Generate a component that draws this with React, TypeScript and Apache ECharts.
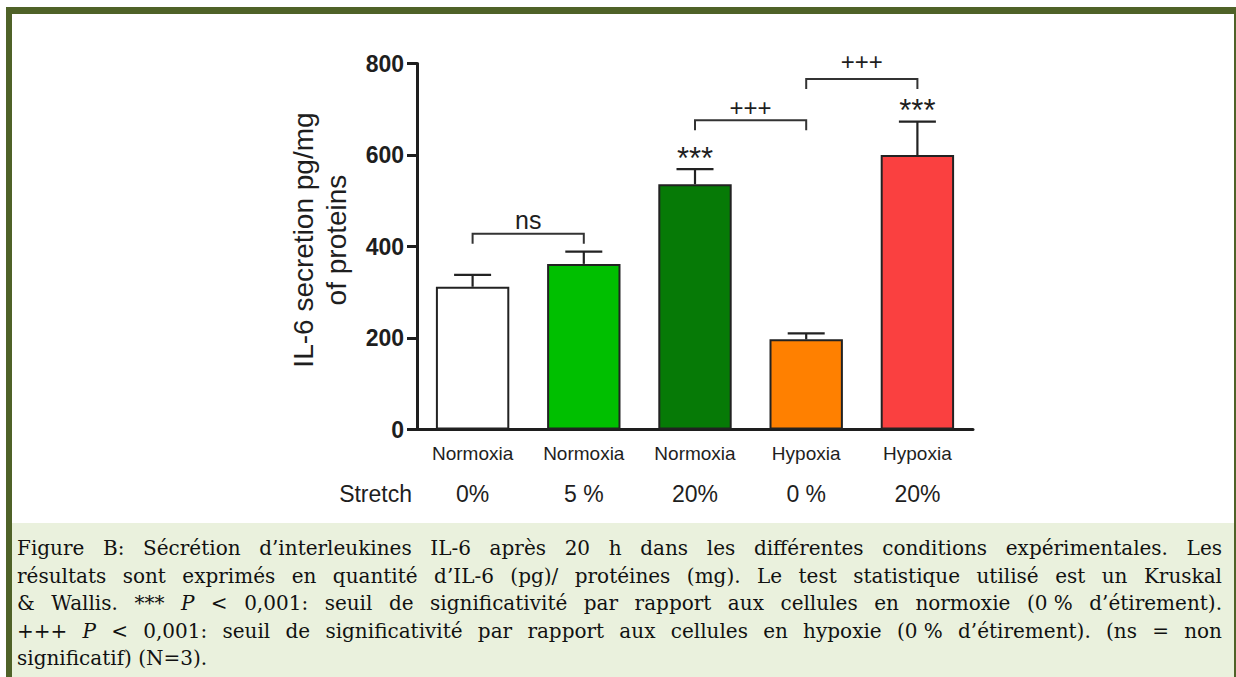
import React, { useEffect, useRef } from "react";
import * as echarts from "echarts";

const categories = ["Normoxia", "Normoxia", "Normoxia", "Hypoxia", "Hypoxia"];
const stretchLabels = ["0%", "5 %", "20%", "0 %", "20%"];
const meanValues = [312, 362, 536, 197, 600];
const semValues = [26, 27, 33, 13, 73];
const starLabels = ["", "", "***", "", "***"];
const barColors = ["#ffffff", "#00bf00", "#067a06", "#ff8000", "#fa4040"];
const yMin = 0;
const yMax = 800;
const yInterval = 200;

const bracketFrom = [0, 2, 3];
const bracketTo = [1, 3, 4];
const bracketLevel = [428, 676, 766];
const bracketLabelLevel = [454, 704, 805];
const bracketLabels = ["ns", "+++", "+++"];

const captionLines = [
  "Figure B: Sécrétion d’interleukines IL-6 après 20 h dans les différentes conditions expérimentales. Les",
  "résultats sont exprimés en quantité d’IL-6 (pg)/ protéines (mg). Le test statistique utilisé est un Kruskal",
  "& Wallis. *** P < 0,001: seuil de significativité par rapport aux cellules en normoxie (0\u00a0% d’étirement).",
  "+++ P < 0,001: seuil de significativité par rapport aux cellules en hypoxie (0\u00a0% d’étirement). (ns = non",
  "significatif) (N=3).",
];

const SANS = '"Liberation Sans", Arial, sans-serif';
const SERIF = '"DejaVu Serif", serif';
const INK = "#1e1e1e";

function buildCaption(): any[] {
  const ctx = document.createElement("canvas").getContext("2d")!;
  const left = 17;
  const right = 1222;
  const avail = right - left;
  const fs = 20;
  const measure = (t: string, it: boolean) => {
    ctx.font = `${it ? "italic " : ""}${fs}px ${SERIF}`;
    return ctx.measureText(t).width;
  };
  let maxW = 0;
  captionLines.forEach((line) => {
    const w = measure(line.replace(/\u00a0/g, " "), false);
    if (w > maxW) maxW = w;
  });
  const sx = Math.min(1, (avail * 0.99) / maxW);
  const els: any[] = [];
  const lineY = [548, 575.5, 603, 630.5, 658];
  captionLines.forEach((line, li) => {
    const words = line.split(" ");
    const widths = words.map((w) => measure(w, w === "P") * sx);
    const total = widths.reduce((a, b) => a + b, 0);
    const last = li === captionLines.length - 1;
    const gap = last ? measure(" ", false) * sx : (avail - total) / (words.length - 1);
    let x = left;
    words.forEach((w, wi) => {
      els.push({
        type: "text",
        x,
        y: lineY[li],
        scaleX: sx,
        silent: true,
        style: {
          text: w,
          fill: "#111",
          font: `${w === "P" ? "italic " : ""}${fs}px ${SERIF}`,
          align: "left",
          verticalAlign: "middle",
        },
      });
      x += widths[wi] + gap;
    });
  });
  return els;
}

export default function App() {
  const ref = useRef<HTMLDivElement>(null);
  useEffect(() => {
    document.body.style.margin = "0";
    const chart = echarts.init(ref.current!, null, { renderer: "svg" });
    const frameColor = "#4f6228";
    const option: any = {
      animation: false,
      backgroundColor: "#ffffff",
      grid: { left: 417, top: 63.5, width: 556, height: 366 },
      xAxis: [
        {
          type: "category",
          data: categories,
          position: "bottom",
          axisLine: { lineStyle: { color: INK, width: 3 } },
          axisTick: { alignWithLabel: true, length: 10, lineStyle: { color: INK, width: 3 } },
          axisLabel: { color: INK, fontFamily: SANS, fontSize: 19, margin: 14 },
        },
        {
          type: "category",
          data: stretchLabels,
          position: "bottom",
          offset: 0,
          axisLine: { show: false },
          axisTick: { show: false },
          axisLabel: { color: INK, fontFamily: SANS, fontSize: 23, margin: 53 },
        },
      ],
      yAxis: {
        type: "value",
        min: yMin,
        max: yMax,
        interval: yInterval,
        splitLine: { show: false },
        axisLine: { show: true, lineStyle: { color: INK, width: 3 } },
        axisTick: { show: true, length: 10, lineStyle: { color: INK, width: 3 } },
        axisLabel: { color: INK, fontFamily: SANS, fontSize: 23, fontWeight: "bold", margin: 13 },
      },
      series: [
        {
          type: "bar",
          barWidth: "66%",
          data: meanValues.map((v, i) => ({
            value: v,
            itemStyle: { color: barColors[i], borderColor: "#222", borderWidth: 2 },
          })),
          z: 2,
        },
        {
          type: "custom",
          z: 3,
          encode: { x: 0, y: [1, 2] },
          data: meanValues.map((v, i) => [i, v, v + semValues[i], i]),
          renderItem: (params: any, api: any) => {
            const idx = api.value(0);
            const base = api.coord([idx, api.value(1)]);
            const top = api.coord([idx, api.value(2)]);
            const half = 18.5;
            const children: any[] = [
              {
                type: "line",
                shape: { x1: base[0], y1: base[1], x2: top[0], y2: top[1] },
                style: { stroke: "#222", lineWidth: 2.2 },
              },
              {
                type: "line",
                shape: { x1: top[0] - half, y1: top[1], x2: top[0] + half, y2: top[1] },
                style: { stroke: "#222", lineWidth: 2.2 },
              },
            ];
            const star = starLabels[api.value(3)];
            if (star) {
              children.push({
                type: "text",
                x: top[0],
                y: top[1] - 11,
                style: {
                  text: star,
                  fill: INK,
                  font: `31px ${SANS}`,
                  align: "center",
                  verticalAlign: "middle",
                },
              });
            }
            return { type: "group", children };
          },
        },
        {
          type: "custom",
          z: 3,
          encode: { x: [0, 1], y: [2, 3] },
          data: bracketFrom.map((f, i) => [f, bracketTo[i], bracketLevel[i], bracketLabelLevel[i], i]),
          renderItem: (params: any, api: any) => {
            const a = api.coord([api.value(0), api.value(2)]);
            const b = api.coord([api.value(1), api.value(2)]);
            const lab = api.coord([api.value(0), api.value(3)]);
            const leg = 10;
            const label = bracketLabels[api.value(4)];
            const isNs = label === "ns";
            return {
              type: "group",
              children: [
                {
                  type: "polyline",
                  shape: {
                    points: [
                      [a[0], a[1] + leg],
                      [a[0], a[1]],
                      [b[0], b[1]],
                      [b[0], b[1] + leg],
                    ],
                  },
                  style: { stroke: "#333", lineWidth: 2, fill: null },
                },
                {
                  type: "text",
                  x: (a[0] + b[0]) / 2,
                  y: lab[1] - (isNs ? 2 : 0),
                  style: {
                    text: label,
                    fill: INK,
                    font: `${isNs ? 25 : 24}px ${SANS}`,
                    align: "center",
                    verticalAlign: "middle",
                  },
                },
              ],
            };
          },
        },
      ],
      graphic: [
        { type: "rect", silent: true, shape: { x: 12, y: 523, width: 1222, height: 154 }, style: { fill: "#eaf1dd" } },
        { type: "rect", silent: true, shape: { x: 6, y: 7, width: 1230, height: 7 }, style: { fill: frameColor } },
        { type: "rect", silent: true, shape: { x: 6, y: 7, width: 6, height: 670 }, style: { fill: frameColor } },
        { type: "rect", silent: true, shape: { x: 1234, y: 7, width: 6, height: 670 }, style: { fill: frameColor } },
        {
          type: "text",
          x: 320,
          y: 240,
          rotation: Math.PI / 2,
          silent: true,
          style: {
            text: "IL-6 secretion pg/mg\nof proteins",
            fill: INK,
            font: `28px ${SANS}`,
            align: "center",
            verticalAlign: "middle",
            lineHeight: 33,
          },
        },
        {
          type: "text",
          x: 412,
          y: 494,
          silent: true,
          style: { text: "Stretch", fill: INK, font: `23px ${SANS}`, align: "right", verticalAlign: "middle" },
        },
        ...buildCaption(),
      ],
    };
    chart.setOption(option);
    return () => chart.dispose();
  }, []);
  return (
    <div
      ref={ref}
      style={{ position: "absolute", left: 0, top: 0, width: 1236, height: 677, background: "#fff" }}
    />
  );
}
